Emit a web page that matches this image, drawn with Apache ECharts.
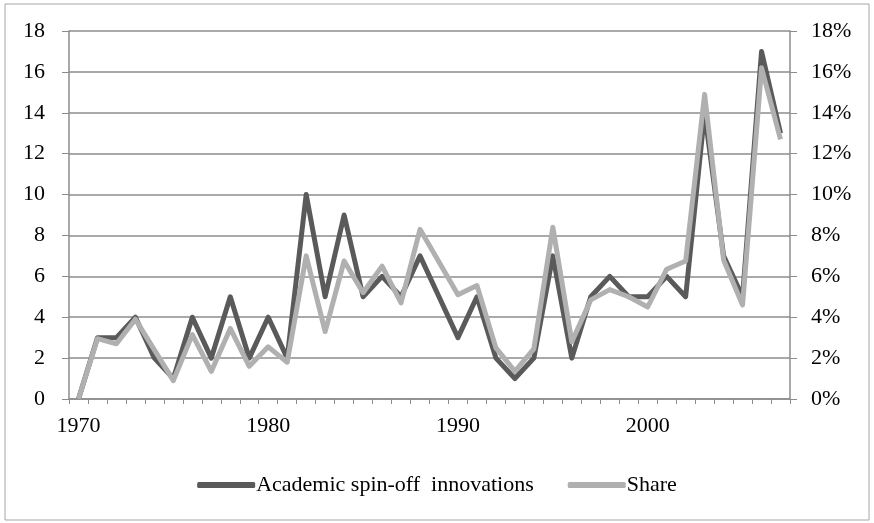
<!DOCTYPE html>
<html>
<head>
<meta charset="utf-8">
<script src="https://cdn.jsdelivr.net/npm/echarts@6/dist/echarts.min.js"></script>
<style>
  html, body { margin: 0; padding: 0; background: #fff; }
  #chart { width: 874px; height: 523px; }
</style>
</head>
<body>
<div id="chart"></div>
<script>
const years = [];
for (let y = 1970; y <= 2007; y++) years.push(String(y));

// number of academic spin-off innovations per year (left axis)
const innovations = [
  0, 3, 3, 4, 2, 1, 4, 2, 5, 2,
  4, 2, 10, 5, 9, 5, 6, 5, 7, 5,
  3, 5, 2, 1, 2, 7, 2, 5, 6, 5,
  5, 6, 5, 14, 7, 5, 17, 13
];

// share of all innovations, in percent (right axis)
const share = [
  0, 2.95, 2.7, 3.9, 2.4, 0.9, 3.15, 1.35, 3.45, 1.6,
  2.55, 1.8, 7.0, 3.3, 6.75, 5.2, 6.5, 4.7, 8.3, 6.7,
  5.1, 5.55, 2.5, 1.35, 2.45, 8.4, 2.8, 4.85, 5.35, 5.0,
  4.5, 6.35, 6.75, 14.9, 6.8, 4.6, 16.2, 12.7
];

const font = 'Liberation Serif';
const fontSize = 22;
const gridColor = '#8c8c8c';

const chart = echarts.init(document.getElementById('chart'));
const option = {
  backgroundColor: '#fff',
  animation: false,
  textStyle: { fontFamily: font },
  graphic: [{
    type: 'rect',
    shape: { x: 5, y: 4, width: 864, height: 516 },
    style: { fill: 'none', stroke: '#a6a6a6', lineWidth: 1 },
    silent: true
  }],
  grid: { left: 69, right: 84, top: 31, bottom: 124 },
  legend: {
    bottom: 22,
    left: 'center',
    itemWidth: 58,
    itemHeight: 6,
    itemGap: 34,
    icon: 'roundRect',
    textStyle: { fontFamily: font, fontSize: fontSize, color: '#000', padding: [0, 0, 0, -4] },
    data: ['Academic spin-off  innovations', 'Share']
  },
  xAxis: {
    type: 'category',
    data: years,
    boundaryGap: true,
    axisLine: { lineStyle: { color: gridColor, width: 1.5 } },
    axisTick: { show: true, interval: 0, length: 5, lineStyle: { color: gridColor } },
    axisLabel: { interval: 9, margin: 16, fontFamily: font, fontSize: fontSize, color: '#000' }
  },
  yAxis: [{
    type: 'value',
    min: 0, max: 18, interval: 2,
    axisLine: { show: true, lineStyle: { color: gridColor, width: 1.5 } },
    axisTick: { show: true, length: 7, lineStyle: { color: gridColor } },
    splitLine: { lineStyle: { color: gridColor, width: 1.5 } },
    axisLabel: { margin: 24, fontFamily: font, fontSize: fontSize, color: '#000' }
  }, {
    type: 'value',
    min: 0, max: 18, interval: 2,
    position: 'right',
    axisLine: { show: true, lineStyle: { color: gridColor, width: 1.5 } },
    axisTick: { show: true, length: 7, lineStyle: { color: gridColor } },
    splitLine: { show: false },
    axisLabel: { margin: 21, fontFamily: font, fontSize: fontSize, color: '#000', formatter: '{value}%' }
  }],
  series: [{
    name: 'Academic spin-off  innovations',
    type: 'line',
    yAxisIndex: 0,
    data: innovations,
    symbol: 'none',
    lineStyle: { color: '#5a5a5a', width: 5, join: 'round' },
    itemStyle: { color: '#5a5a5a' }
  }, {
    name: 'Share',
    type: 'line',
    yAxisIndex: 1,
    data: share,
    symbol: 'none',
    lineStyle: { color: '#b0b0b0', width: 5, join: 'round' },
    itemStyle: { color: '#b0b0b0' }
  }]
};
chart.setOption(option);
</script>
</body>
</html>
